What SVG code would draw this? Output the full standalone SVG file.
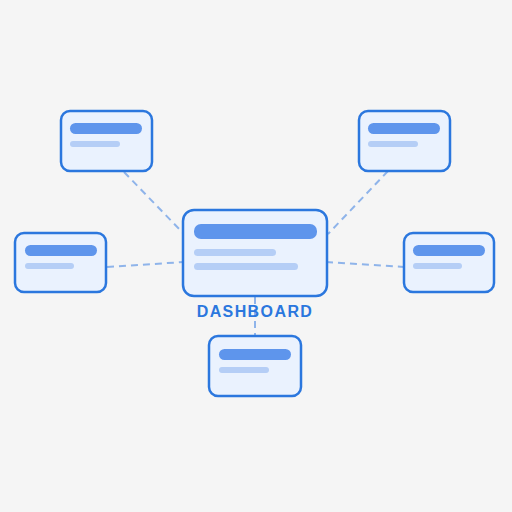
<svg xmlns="http://www.w3.org/2000/svg" width="512" height="512" viewBox="0 0 512 512">
<style>
.card{fill:#eaf2fe;stroke:#2b77de;stroke-width:2.5}
.b1{fill:#5e95ec}
.b2{fill:#b5cef6}
.link{stroke:#8fb4ea;stroke-width:2;stroke-dasharray:7 5;fill:none}
.lbl{font-family:"Liberation Sans",Arial,sans-serif;font-weight:bold;font-size:16px;fill:#2b77de;letter-spacing:1.4px}
</style>
<rect width="512" height="512" fill="#f5f5f5"/>
<g id="connectors">
<line class="link" x1="124" y1="172" x2="184" y2="234"/>
<line class="link" x1="388" y1="171" x2="328" y2="234"/>
<line class="link" x1="107" y1="267" x2="184" y2="262"/>
<line class="link" x1="326" y1="262" x2="404" y2="267"/>
<line class="link" x1="255" y1="297" x2="255" y2="336"/>
</g>
<g id="dashboard">
<rect class="card" x="183" y="210" width="144" height="86" rx="11" stroke-width="3"/>
<rect class="b1" x="194" y="224" width="123" height="15" rx="7"/>
<rect class="b2" x="194" y="249" width="82" height="7" rx="3.5"/>
<rect class="b2" x="194" y="263" width="104" height="7" rx="3.5"/>
<text class="lbl" x="255" y="317" text-anchor="middle">DASHBOARD</text>
</g>
<g id="node-top-left">
<rect class="card" x="61" y="111" width="91" height="60" rx="9"/>
<rect class="b1" x="70" y="123" width="72" height="11" rx="5.5"/>
<rect class="b2" x="70" y="141" width="50" height="6" rx="3"/>
</g>
<g id="node-top-right">
<rect class="card" x="359" y="111" width="91" height="60" rx="9"/>
<rect class="b1" x="368" y="123" width="72" height="11" rx="5.5"/>
<rect class="b2" x="368" y="141" width="50" height="6" rx="3"/>
</g>
<g id="node-left">
<rect class="card" x="15" y="233" width="91" height="59" rx="9"/>
<rect class="b1" x="25" y="245" width="72" height="11" rx="5.5"/>
<rect class="b2" x="25" y="263" width="49" height="6" rx="3"/>
</g>
<g id="node-right">
<rect class="card" x="404" y="233" width="90" height="59" rx="9"/>
<rect class="b1" x="413" y="245" width="72" height="11" rx="5.5"/>
<rect class="b2" x="413" y="263" width="49" height="6" rx="3"/>
</g>
<g id="node-bottom">
<rect class="card" x="209" y="336" width="92" height="60" rx="9"/>
<rect class="b1" x="219" y="349" width="72" height="11" rx="5.5"/>
<rect class="b2" x="219" y="367" width="50" height="6" rx="3"/>
</g>
</svg>
